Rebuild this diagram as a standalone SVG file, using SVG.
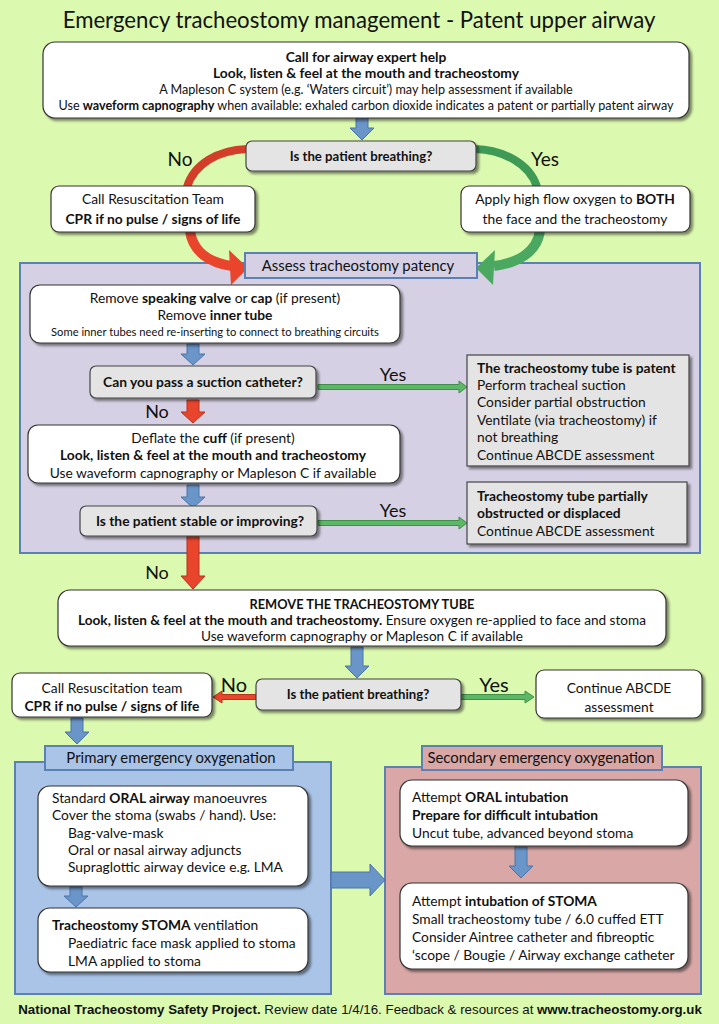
<svg xmlns="http://www.w3.org/2000/svg" width="719" height="1024" viewBox="0 0 719 1024">
<defs>
<filter id="sh" x="-5%" y="-10%" width="115%" height="135%"><feDropShadow dx="2.5" dy="2.5" stdDeviation="1.2" flood-color="#000" flood-opacity="0.45"/></filter>
<style>
text{font-family:Lato,"Open Sans","Liberation Sans",sans-serif;fill:#111}
.b{font-weight:bold}
.c{text-anchor:middle}
.wb{fill:#fff;stroke:#333;stroke-width:1.2;filter:url(#sh)}
.gb{fill:#e4e4e4;stroke:#444;stroke-width:1.2;filter:url(#sh)}
.blue{fill:#6a95c8;stroke:#4a74a8;stroke-width:1}
.red{fill:#e8452c;stroke:#b8321f;stroke-width:1}
.grn{fill:#5cb866;stroke:#3f8f48;stroke-width:1}
.hdr{stroke:#5a80b4;stroke-width:2}
.lbl{font-size:18px}
.t13{font-size:13.8px}
.t12{font-size:13.6px}
.t11{font-size:12.6px}
.h{font-size:14.9px}
</style>
</defs>
<rect x="0" y="0" width="719" height="1024" fill="#dcf9b0"/>
<text x="359" y="28" class="c" style="font-size:22.2px">Emergency tracheostomy management - Patent upper airway</text>

<g id="region-assess">
<rect x="20" y="263" width="680" height="290" fill="#d6d0e4" class="hdr"/>
</g>
<g id="region-primary">
<rect x="15" y="762" width="316" height="232" fill="#a9c4e7" class="hdr"/>
</g>
<g id="region-secondary">
<rect x="385" y="767" width="316" height="227" fill="#d9a8a6" class="hdr"/>
</g>

<g id="connectors">
<polygon class="blue" points="356,118 368,118 368,128 374,128 362,140 350,128 356,128"/>
<path d="M247 149 C218 150 194 164 187 187" fill="none" stroke="#d23e2a" stroke-width="8"/>
<path d="M190 231 C193 252 210 263 232 266" fill="none" stroke="#e8452c" stroke-width="10"/>
<polygon points="229,250 248,268 231,285" fill="#e8452c"/>
<path d="M475 149 C504 150 530 164 537 187" fill="none" stroke="#3f9a55" stroke-width="8"/>
<path d="M540 231 C537 252 518 263 494 266" fill="none" stroke="#4aa860" stroke-width="10"/>
<polygon points="495,250 476,268 493,285" fill="#4aa860"/>
<polygon class="blue" points="187,344 199,344 199,354 205,354 193,365 181,354 187,354"/>
<polygon class="grn" points="318,384.5 459,384.5 459,381 467,387 459,393 459,389.5 318,389.5"/>
<polygon class="red" points="187,400 199,400 199,412 205,412 193,423 181,412 187,412"/>
<polygon class="blue" points="187,485 199,485 199,497 205,497 193,508 181,497 187,497"/>
<polygon class="grn" points="318,520.5 459,520.5 459,517 467,523 459,529 459,525.5 318,525.5"/>
<polygon class="red" points="187,536 199,536 199,576 205,576 193,589 181,576 187,576"/>
<polygon class="blue" points="351,647 363,647 363,666 369,666 357,678 345,666 351,666"/>
<polygon class="red" points="256,694.5 222,694.5 222,691 213,697 222,703 222,699.5 256,699.5"/>
<polygon class="grn" points="461,694.5 525,694.5 525,691 534,697 525,703 525,699.5 461,699.5"/>
<polygon class="blue" points="71,718 83,718 83,732 89,732 77,744 65,732 71,732"/>
<polygon class="blue" points="70,887 82,887 82,896 88,896 76,907 64,896 70,896"/>
<polygon class="blue" points="515,847 527,847 527,866 533,866 521,878 509,866 515,866"/>
<polygon class="blue" points="331,872 370,872 370,864 385,880 370,896 370,888 331,888"/>
</g>

<g id="labels">
<text x="180" y="166" class="lbl c" style="font-size:19px">No</text>
<text x="545" y="166" class="lbl c" style="font-size:19px">Yes</text>
<text x="393" y="381" class="lbl c">Yes</text>
<text x="157" y="418" class="lbl c">No</text>
<text x="393" y="517" class="lbl c">Yes</text>
<text x="157" y="579" class="lbl c">No</text>
<text x="234" y="692" class="lbl c" style="font-size:20px">No</text>
<text x="494" y="692" class="lbl c" style="font-size:20px">Yes</text>
</g>

<g id="n-call-help">
<rect x="43" y="42" width="646" height="76" rx="12" class="wb"/>
<text x="366" y="62" class="c b t13">Call for airway expert help</text>
<text x="366" y="78" class="c b t13">Look, listen &amp; feel at the mouth and tracheostomy</text>
<text x="366" y="94" class="c t11">A Mapleson C system (e.g. ‘Waters circuit’) may help assessment if available</text>
<text x="366" y="110" class="c t11">Use <tspan class="b">waveform capnography</tspan> when available:  exhaled carbon dioxide indicates a patent or partially patent airway</text>
</g>

<g id="n-breathing-1">
<rect x="246" y="141" width="230" height="30" rx="6" class="gb"/>
<text x="361" y="161" class="c b" style="font-size:13.2px">Is the patient breathing?</text>
</g>

<g id="n-resus-1">
<rect x="51" y="186" width="204" height="46" rx="8" class="wb"/>
<text x="153" y="204" class="c t13">Call Resuscitation Team</text>
<text x="153" y="224" class="c b t13">CPR if no pulse / signs of life</text>
</g>

<g id="n-oxygen">
<rect x="461" y="186" width="229" height="46" rx="8" class="wb"/>
<text x="575" y="204" class="c t13">Apply high flow oxygen to <tspan class="b">BOTH</tspan></text>
<text x="575" y="224" class="c t13">the face and the tracheostomy</text>
</g>

<g id="n-assess-header">
<rect x="245" y="253" width="232" height="25" fill="#d6d0e4" class="hdr"/>
<text x="358" y="271" class="c h">Assess tracheostomy patency</text>
</g>

<g id="n-remove-valve">
<rect x="30" y="285" width="370" height="58" rx="10" class="wb"/>
<text x="215" y="303" class="c t13">Remove <tspan class="b">speaking valve</tspan> or <tspan class="b">cap</tspan> (if present)</text>
<text x="215" y="320" class="c t13">Remove <tspan class="b">inner tube</tspan></text>
<text x="215" y="336" class="c" style="font-size:11.2px">Some inner tubes need re-inserting to connect to breathing circuits</text>
</g>

<g id="n-suction">
<rect x="90" y="366" width="226" height="32" rx="6" class="gb"/>
<text x="203" y="387" class="c b t13">Can you pass a suction catheter?</text>
</g>

<g id="n-patent">
<rect x="467" y="355" width="222" height="111" class="gb"/>
<text x="477" y="373" class="b t13">The tracheostomy tube is patent</text>
<text x="477" y="390" class="t13">Perform tracheal suction</text>
<text x="477" y="407" class="t13">Consider partial obstruction</text>
<text x="477" y="425" class="t13">Ventilate (via tracheostomy) if</text>
<text x="477" y="442" class="t13">not breathing</text>
<text x="477" y="460" class="t13">Continue ABCDE assessment</text>
</g>

<g id="n-deflate">
<rect x="28" y="425" width="372" height="58" rx="10" class="wb"/>
<text x="213" y="443" class="c t13">Deflate the <tspan class="b">cuff</tspan> (if present)</text>
<text x="213" y="460" class="c b t13">Look, listen &amp; feel at the mouth and tracheostomy</text>
<text x="213" y="478" class="c t13">Use waveform capnography or Mapleson C if available</text>
</g>

<g id="n-stable">
<rect x="80" y="506" width="237" height="30" rx="6" class="gb"/>
<text x="200" y="526" class="c b t13">Is the patient stable or improving?</text>
</g>

<g id="n-partial">
<rect x="467" y="482" width="220" height="62" class="gb"/>
<text x="477" y="501" class="b t13">Tracheostomy tube partially</text>
<text x="477" y="518" class="b t13">obstructed or displaced</text>
<text x="477" y="536" class="t13">Continue ABCDE assessment</text>
</g>

<g id="n-remove-tube">
<rect x="58" y="590" width="608" height="56" rx="12" class="wb"/>
<text x="362" y="609" class="c b" style="font-size:12.8px">REMOVE THE TRACHEOSTOMY TUBE</text>
<text x="362" y="625" class="c t12"><tspan class="b">Look, listen &amp; feel at the mouth and tracheostomy.</tspan> Ensure oxygen re-applied to face and stoma</text>
<text x="362" y="641" class="c t12">Use waveform capnography or Mapleson C if available</text>
</g>

<g id="n-breathing-2">
<rect x="256" y="679" width="205" height="31" rx="6" class="gb"/>
<text x="358" y="699" class="c b" style="font-size:13.2px">Is the patient breathing?</text>
</g>

<g id="n-resus-2">
<rect x="12" y="673" width="200" height="44" rx="8" class="wb"/>
<text x="112" y="693" class="c t13">Call Resuscitation team</text>
<text x="112" y="711" class="c b t13">CPR if no pulse / signs of life</text>
</g>

<g id="n-continue">
<rect x="536" y="670" width="166" height="48" rx="8" class="wb"/>
<text x="619" y="693" class="c t13">Continue ABCDE</text>
<text x="619" y="712" class="c t13">assessment</text>
</g>

<g id="n-primary-header">
<rect x="45" y="746" width="248" height="24" fill="#a9c4e7" class="hdr"/>
<text x="171" y="763" class="c h">Primary emergency oxygenation</text>
</g>

<g id="n-oral-airway">
<rect x="38" y="786" width="270" height="100" rx="12" class="wb"/>
<text x="52" y="803" class="t13">Standard <tspan class="b">ORAL airway</tspan> manoeuvres</text>
<text x="52" y="820" class="t13">Cover the stoma (swabs / hand). Use:</text>
<text x="68" y="838" class="t13">Bag-valve-mask</text>
<text x="68" y="855" class="t13">Oral or nasal airway adjuncts</text>
<text x="68" y="872" class="t13">Supraglottic airway device e.g. LMA</text>
</g>

<g id="n-stoma-vent">
<rect x="38" y="908" width="270" height="64" rx="12" class="wb"/>
<text x="52" y="930" class="t13"><tspan class="b">Tracheostomy STOMA</tspan> ventilation</text>
<text x="68" y="948" class="t13">Paediatric face mask applied to stoma</text>
<text x="68" y="966" class="t13">LMA applied to stoma</text>
</g>

<g id="n-secondary-header">
<rect x="422" y="746" width="240" height="24" fill="#d9a8a6" class="hdr"/>
<text x="541" y="763" class="c h">Secondary emergency oxygenation</text>
</g>

<g id="n-oral-intubation">
<rect x="400" y="780" width="288" height="66" rx="12" class="wb"/>
<text x="412" y="802" class="t13">Attempt <tspan class="b">ORAL intubation</tspan></text>
<text x="412" y="820" class="b t13">Prepare for difficult intubation</text>
<text x="412" y="838" class="t13">Uncut tube, advanced beyond stoma</text>
</g>

<g id="n-stoma-intubation">
<rect x="400" y="883" width="288" height="86" rx="12" class="wb"/>
<text x="412" y="906" class="t13">Attempt <tspan class="b">intubation of STOMA</tspan></text>
<text x="412" y="924" class="t13">Small tracheostomy tube / 6.0 cuffed ETT</text>
<text x="412" y="942" class="t13">Consider Aintree catheter and fibreoptic</text>
<text x="412" y="960" class="t13">‘scope / Bougie / Airway exchange catheter</text>
</g>

<text x="360" y="1014" class="c" style="font-family:'Liberation Sans',Arial,sans-serif;font-size:13.3px"><tspan class="b">National Tracheostomy Safety Project.</tspan> Review date 1/4/16. Feedback &amp; resources at <tspan class="b">www.tracheostomy.org.uk</tspan></text>
</svg>
